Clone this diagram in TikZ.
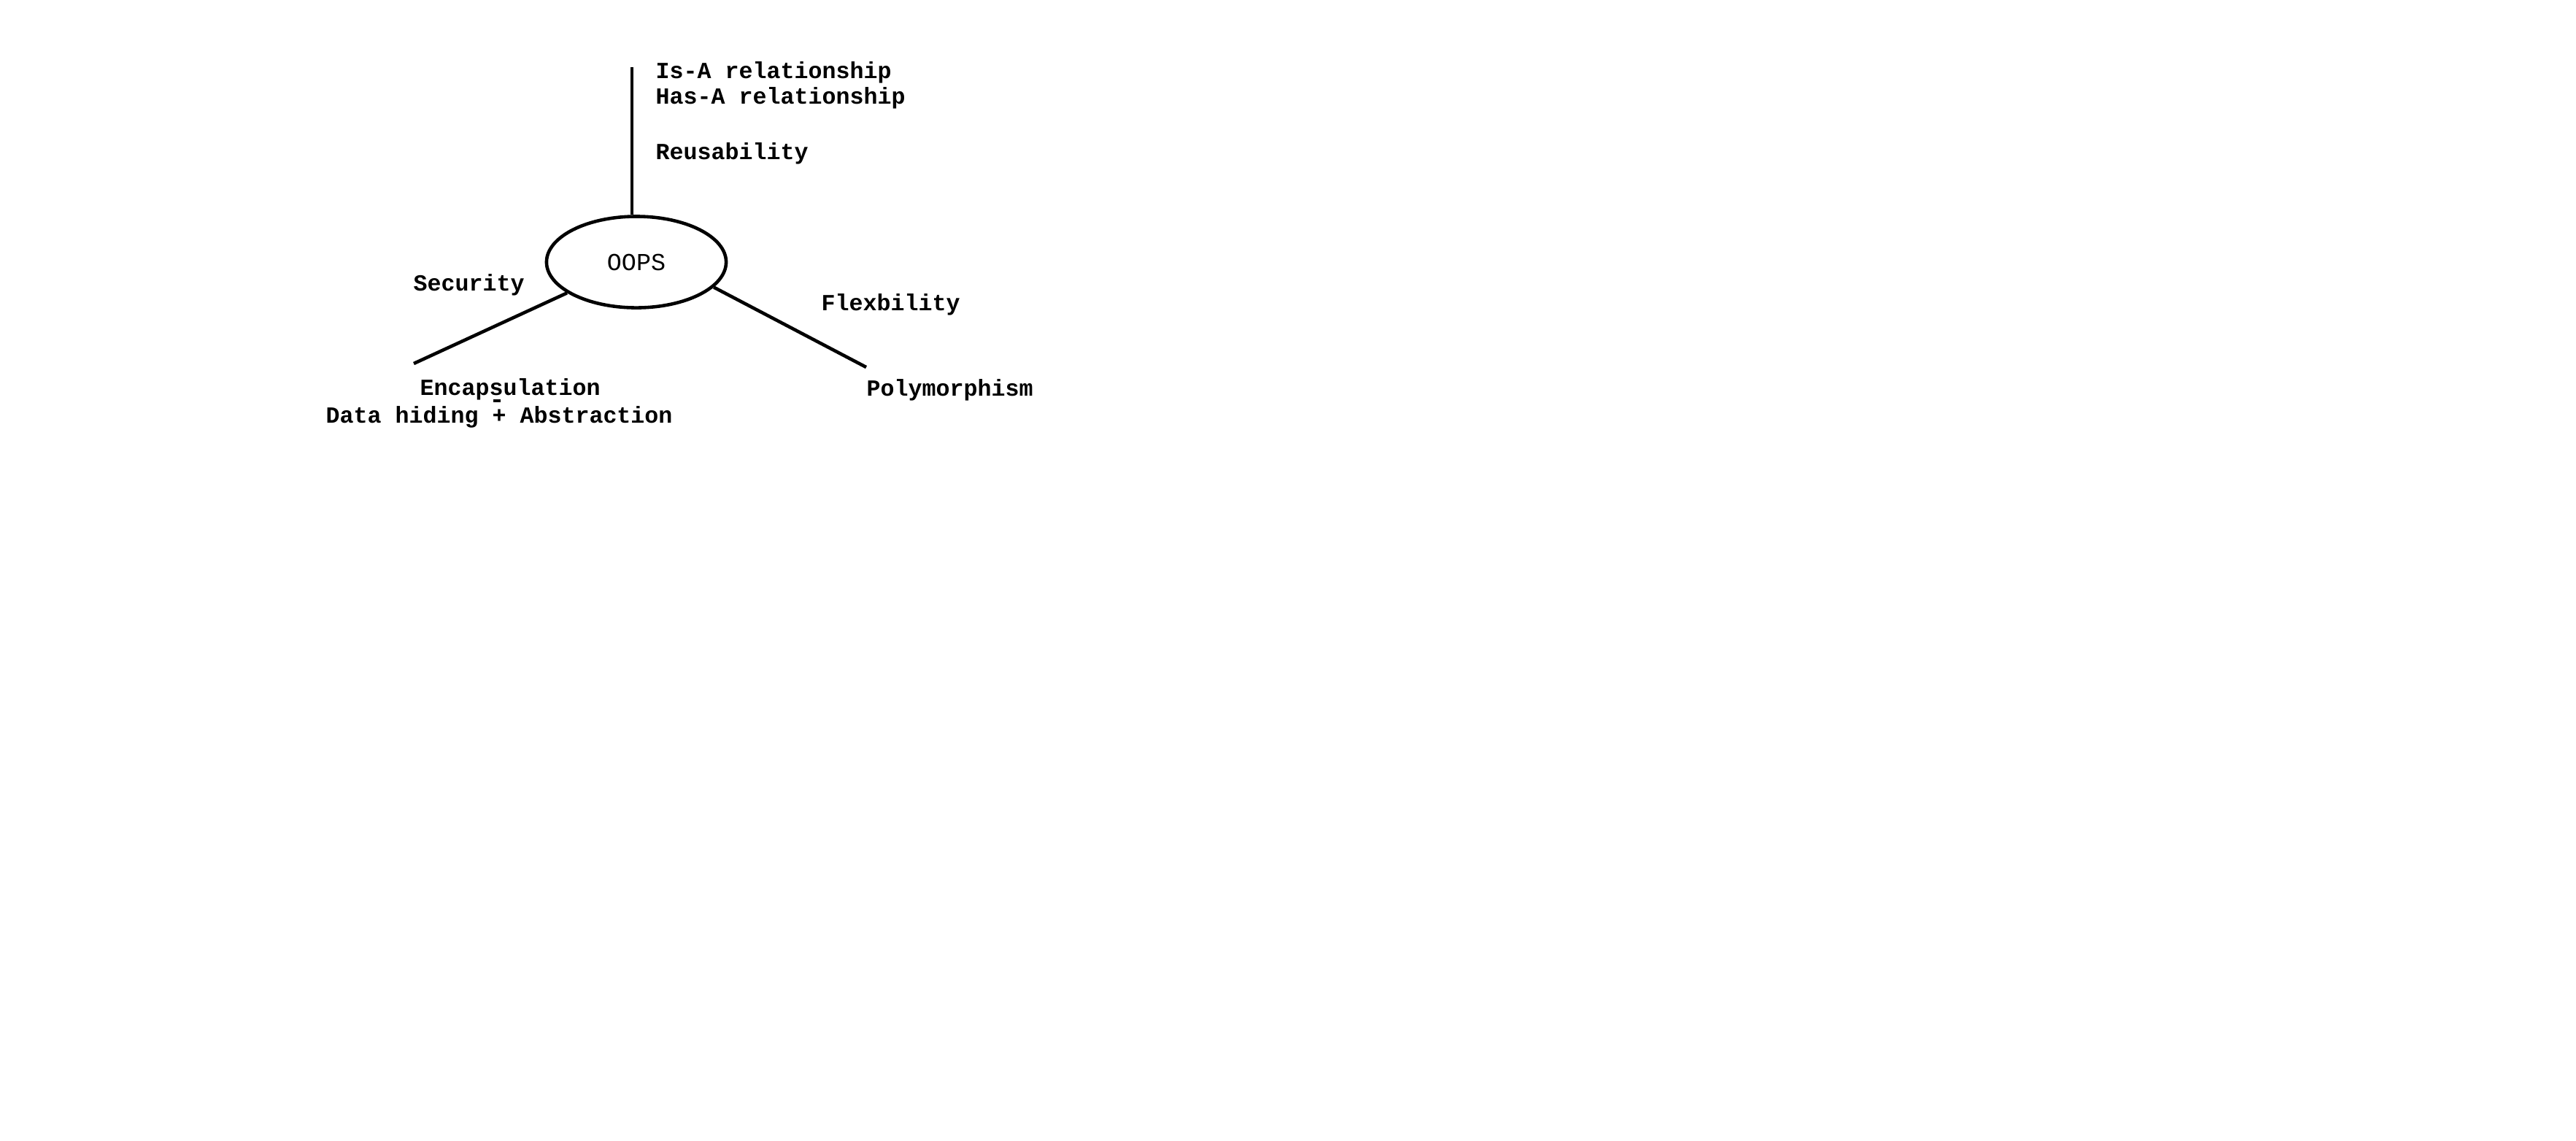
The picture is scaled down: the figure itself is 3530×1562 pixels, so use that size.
\documentclass[tikz,border=0pt]{standalone}
\usepackage{fontspec}
\newfontfamily\monofont{Liberation Mono}
\usetikzlibrary{shapes.geometric}
\begin{document}
\begin{tikzpicture}[x=0.01cm,y=-0.01cm,
  stroke/.style={line width=1.3pt,black},
  label/.style={anchor=base west,inner sep=0pt,font=\monofont\bfseries\fontsize{9}{11}\selectfont},
  hub/.style={ellipse,draw,line width=1.3pt,minimum width=2.46cm,minimum height=1.25cm,inner sep=0pt,
              font=\monofont\fontsize{9.5}{11}\selectfont}]
  \useasboundingbox (0,0) rectangle (3530,1562);
  \fill[white] (0,0) rectangle (3530,1562);

  % central concept
  \node[hub] (oops) at (872,359) {OOPS};

  % free ends of the three branches
  \coordinate (topEnd) at (866,92);
  \coordinate (leftEnd) at (567,498);
  \coordinate (rightEnd) at (1187,503);

  \draw[stroke] (topEnd) -- (topEnd |- oops.north);
  \draw[stroke] (oops.-156.5) -- (leftEnd);
  \draw[stroke] (oops.-18) -- (rightEnd);

  % branch labels
  \node[label] (isa) at (898,107) {Is-A relationship};
  \node[label] (hasa) at (898,142) {Has-A relationship};
  \node[label] (reuse) at (898,218) {Reusability};
  \node[label] (sec) at (566,398) {Security};
  \node[label] (flex) at (1125,425) {Flexbility};
  \node[label] (enc) at (575,541) {Encapsulation};
  \node[label] (dha) at (446,579) {Data hiding + Abstraction};
  \node[label] (poly) at (1187,542) {Polymorphism};

  % small stroke under the "s" of Encapsulation
  \draw[line width=0.9pt] (676,549) -- (686,549);
\end{tikzpicture}
\end{document}
